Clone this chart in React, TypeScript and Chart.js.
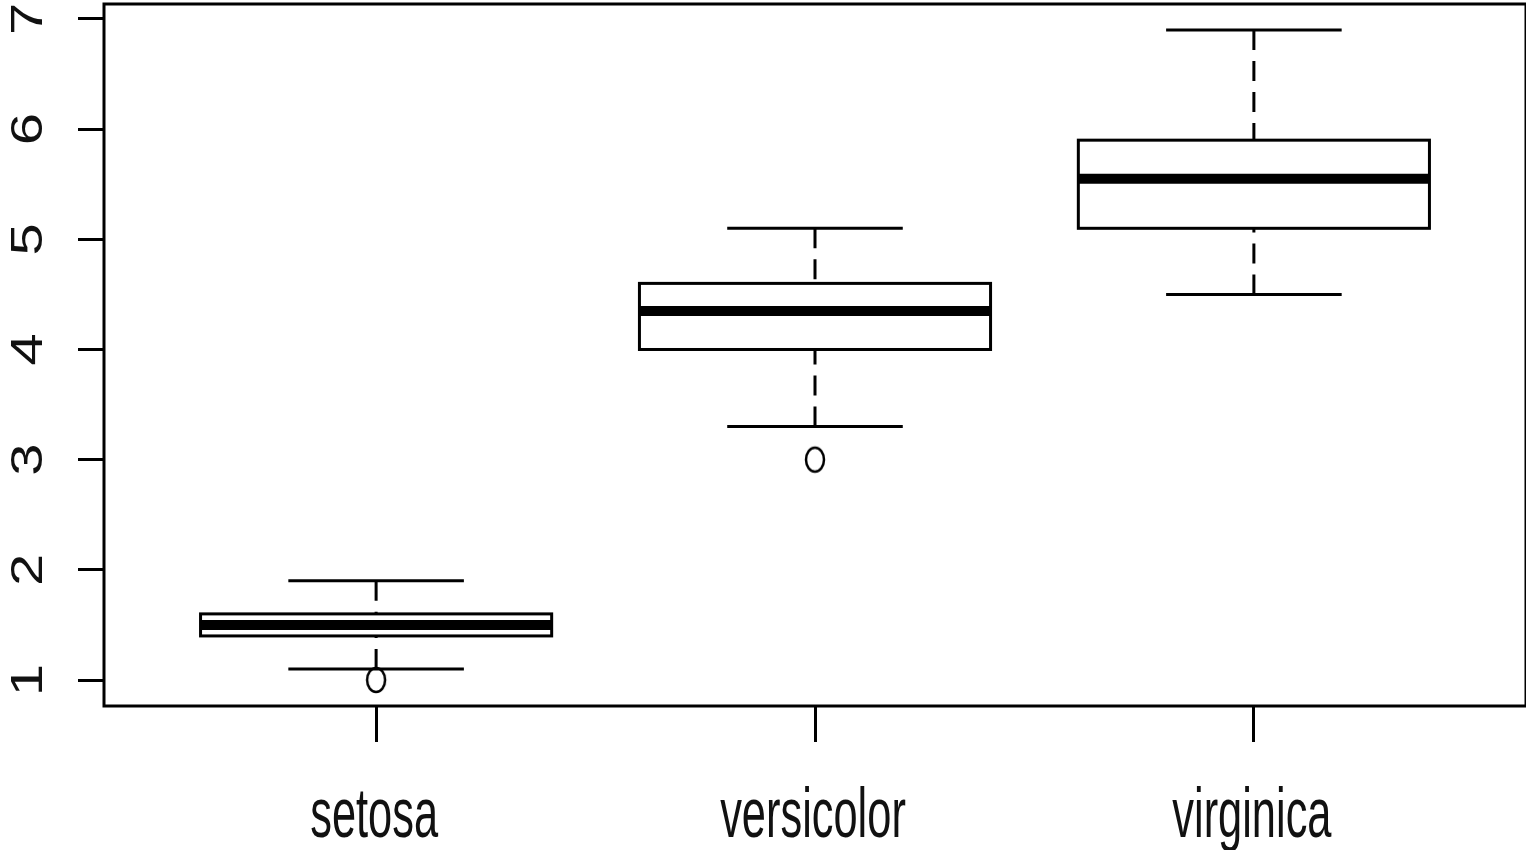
import React, { useEffect, useRef } from 'react';
import { Chart, registerables } from 'chart.js';

Chart.register(...registerables);

// ---- Data (iris Petal.Length by Species) ----
const species = ['setosa', 'versicolor', 'virginica'];
const positions = [1, 2, 3];
const whiskerLow = [1.1, 3.3, 4.5];
const q1 = [1.4, 4.0, 5.1];
const median = [1.5, 4.35, 5.55];
const q3 = [1.6, 4.6, 5.9];
const whiskerHigh = [1.9, 5.1, 6.9];
const outlierX = [1, 2];
const outlierY = [1.0, 3.0];
const yTickValues = [1, 2, 3, 4, 5, 6, 7];
const yRange = [0.764, 7.136];
const xRange = [0.38, 3.62];

const makeEllipse = () => {
  const c = document.createElement('canvas');
  c.width = 26;
  c.height = 32;
  const g = c.getContext('2d')!;
  g.strokeStyle = '#000';
  g.lineWidth = 2.5;
  g.beginPath();
  g.ellipse(13, 16, 9, 12, 0, 0, Math.PI * 2);
  g.stroke();
  return c;
};

const boxPlugin = {
  id: 'rBoxes',
  beforeDatasetsDraw(chart: any) {
    const ctx = chart.ctx as CanvasRenderingContext2D;
    const xs = chart.scales.x;
    const ys = chart.scales.y;
    ctx.save();
    ctx.strokeStyle = '#000';
    for (let i = 0; i < positions.length; i++) {
      const p = positions[i];
      const cx = xs.getPixelForValue(p);
      const bl = xs.getPixelForValue(p - 0.4);
      const br = xs.getPixelForValue(p + 0.4);
      const cl = xs.getPixelForValue(p - 0.2);
      const cr = xs.getPixelForValue(p + 0.2);
      const yLo = ys.getPixelForValue(whiskerLow[i]);
      const yQ1 = ys.getPixelForValue(q1[i]);
      const yMed = ys.getPixelForValue(median[i]);
      const yQ3 = ys.getPixelForValue(q3[i]);
      const yHi = ys.getPixelForValue(whiskerHigh[i]);
      // dashed whiskers (drawn from whisker end toward box)
      ctx.lineWidth = 3;
      ctx.setLineDash([20, 11]);
      ctx.beginPath();
      ctx.moveTo(cx, yHi);
      ctx.lineTo(cx, yQ3);
      ctx.stroke();
      ctx.beginPath();
      ctx.moveTo(cx, yLo);
      ctx.lineTo(cx, yQ1);
      ctx.stroke();
      ctx.setLineDash([]);
      // staples
      ctx.beginPath();
      ctx.moveTo(cl, yHi);
      ctx.lineTo(cr, yHi);
      ctx.moveTo(cl, yLo);
      ctx.lineTo(cr, yLo);
      ctx.stroke();
      // box
      ctx.fillStyle = '#fff';
      ctx.fillRect(bl, yQ3, br - bl, yQ1 - yQ3);
      ctx.strokeRect(bl, yQ3, br - bl, yQ1 - yQ3);
      // median
      ctx.lineWidth = 10;
      ctx.lineCap = 'butt';
      ctx.beginPath();
      ctx.moveTo(bl, yMed);
      ctx.lineTo(br, yMed);
      ctx.stroke();
    }
    ctx.restore();
  },
  afterDraw(chart: any) {
    const ctx = chart.ctx as CanvasRenderingContext2D;
    const xs = chart.scales.x;
    const ys = chart.scales.y;
    const a = chart.chartArea;
    ctx.save();
    // plot frame
    ctx.strokeStyle = '#000';
    ctx.lineWidth = 3;
    ctx.strokeRect(a.left, a.top, a.right - a.left, a.bottom - a.top);
    ctx.fillStyle = '#111';
    // x labels (condensed)
    ctx.font = '70px "Liberation Sans", Arial, sans-serif';
    ctx.textAlign = 'center';
    ctx.textBaseline = 'alphabetic';
    for (let i = 0; i < species.length; i++) {
      const x = xs.getPixelForValue(positions[i]);
      ctx.save();
      ctx.translate(x - 2, 837);
      ctx.scale(0.62, 1);
      ctx.fillText(species[i], 0, 0);
      ctx.restore();
    }
    // y labels (rotated)
    ctx.font = '58px "Liberation Sans", Arial, sans-serif';
    for (const v of yTickValues) {
      const y = ys.getPixelForValue(v);
      ctx.save();
      ctx.translate(42, y);
      ctx.rotate(-Math.PI / 2);
      ctx.scale(1, 0.75);
      ctx.fillText(String(v), 0, 0);
      ctx.restore();
    }
    ctx.restore();
  },
};

export default function App() {
  const ref = useRef<HTMLCanvasElement | null>(null);
  useEffect(() => {
    if (!ref.current) return;
    const ellipse = makeEllipse();
    const chart = new Chart(ref.current, {
      type: 'scatter',
      data: {
        datasets: [
          {
            data: outlierX.map((x, i) => ({ x, y: outlierY[i] })),
            pointStyle: ellipse as any,
            borderColor: '#000',
            backgroundColor: 'rgba(0,0,0,0)',
          },
        ],
      },
      options: {
        responsive: false,
        animation: false,
        layout: { autoPadding: false, padding: { top: 4, right: 0, left: 0, bottom: 0 } },
        plugins: { legend: { display: false }, tooltip: { enabled: false } },
        scales: {
          x: {
            type: 'linear',
            position: 'bottom',
            min: xRange[0],
            max: xRange[1],
            ticks: { display: false, stepSize: 1, includeBounds: false },
            grid: {
              display: true,
              drawOnChartArea: false,
              drawTicks: true,
              tickLength: 36,
              lineWidth: 3,
              color: '#000',
            },
            border: { display: false },
            afterFit: (s: any) => {
              s.height = 144;
            },
          },
          y: {
            type: 'linear',
            position: 'left',
            min: yRange[0],
            max: yRange[1],
            ticks: { display: false, stepSize: 1, includeBounds: false },
            grid: {
              display: true,
              drawOnChartArea: false,
              drawTicks: true,
              tickLength: 26,
              lineWidth: 3,
              color: '#000',
            },
            border: { display: false },
            afterFit: (s: any) => {
              s.width = 104;
            },
          },
        },
      },
      plugins: [boxPlugin],
    });
    return () => chart.destroy();
  }, []);
  return (
    <div style={{ position: 'fixed', left: 0, top: 0, width: 1526, height: 850, background: '#fff' }}>
      <canvas ref={ref} width={1526} height={850} style={{ display: 'block' }} />
    </div>
  );
}
